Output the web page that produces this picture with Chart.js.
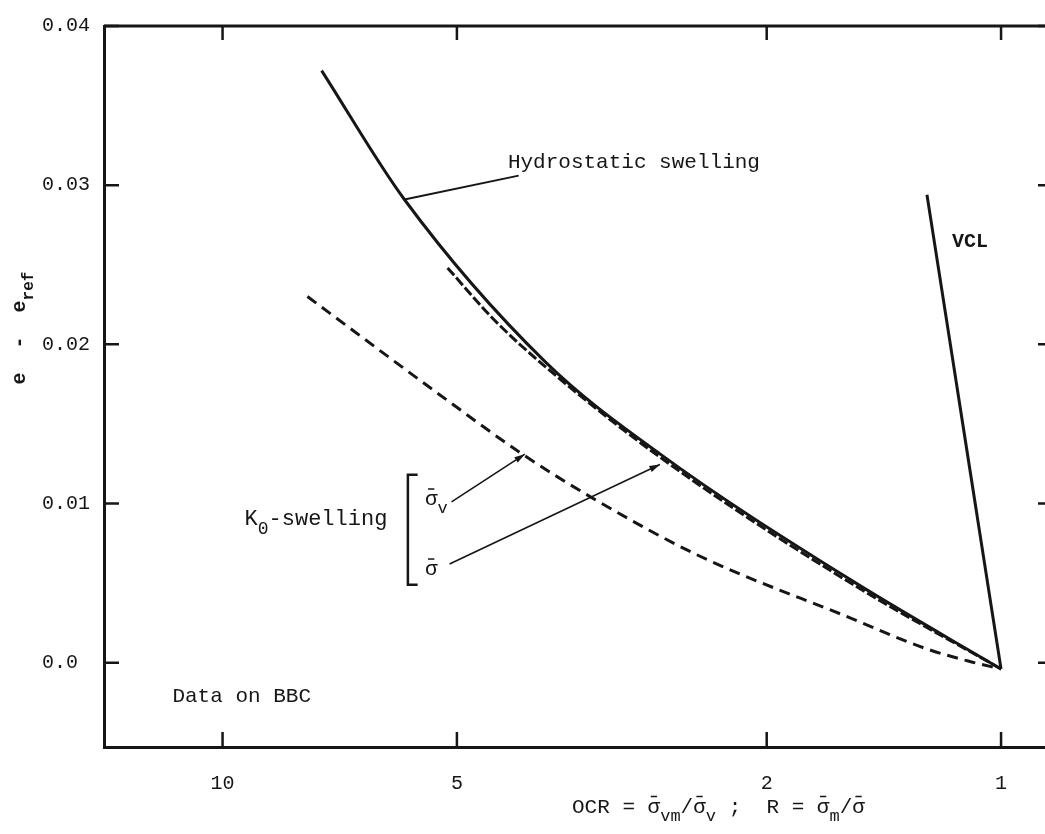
<!DOCTYPE html>
<html>
<head>
<meta charset="utf-8">
<script src="https://cdn.jsdelivr.net/npm/chart.js@4/dist/chart.umd.min.js"></script>
<style>
  html, body { margin: 0; padding: 0; background: #fff; overflow: hidden; }
  #wrap { width: 1070px; height: 834px; }
</style>
</head>
<body>
<div id="wrap"><canvas id="myChart" width="1070" height="834"></canvas></div>
<script>
// tick values
const ocrTicks = [1, 2, 5, 10];
const eTicks = [0, 0.01, 0.02, 0.03, 0.04];
const eTickLabels = ['0.0', '0.01', '0.02', '0.03', '0.04'];

// hydrostatic swelling (solid)
const hydroOcr = [7.46, 5.84, 3.85, 2.74, 1.56, 1.0];
const hydroE = [0.0372, 0.0291, 0.0189, 0.0131, 0.0052, -0.0004];

// K0-swelling, sigma_v (dashed)
const k0vOcr = [7.78, 5.15, 4.12, 3.31, 2.44, 1.56, 1.252, 1.102, 1.0];
const k0vE = [0.0230, 0.0165, 0.0131, 0.0102, 0.0067, 0.0028, 0.0009, 0.0001, -0.0004];

// K0-swelling, sigma mean (runs along the hydrostatic line)
const k0mOcr = [5.14, 4.47, 3.85, 2.74, 1.56, 1.0];
const k0mE = [0.0248, 0.0215, 0.0186, 0.0129, 0.0050, -0.0004];

// VCL
const vclOcr = [1.245, 1.0];
const vclE = [0.0294, -0.0004];

const MONO = '"Liberation Mono", "DejaVu Sans Mono", monospace';
const INK = '#161616';

function pts(xs, ys) {
  return xs.map((x, i) => ({x: x, y: ys[i]}));
}

// pieces of rich text: {t, bar, sub}
function drawRich(ctx, segs, x, y, size, align, weight) {
  const subSize = Math.round(size * 0.8);
  const w8 = weight ? weight + ' ' : '';
  let w = 0;
  segs.forEach(s => {
    ctx.font = w8 + (s.sub ? subSize : size) + 'px ' + MONO;
    s.w = ctx.measureText(s.t).width;
    w += s.w;
  });
  let cx = align === 'center' ? x - w / 2 : x;
  ctx.textBaseline = 'middle';
  ctx.textAlign = 'left';
  segs.forEach(s => {
    ctx.font = w8 + (s.sub ? subSize : size) + 'px ' + MONO;
    const dy = s.sub ? size * 0.45 : 0;
    ctx.fillText(s.t, cx, y + dy);
    if (s.bar) {
      ctx.beginPath();
      ctx.lineWidth = 1.5;
      ctx.moveTo(cx + s.w * 0.25, y - size * 0.5);
      ctx.lineTo(cx + s.w * 0.75, y - size * 0.5);
      ctx.stroke();
    }
    cx += s.w;
  });
}

function arrow(ctx, x1, y1, x2, y2) {
  ctx.beginPath();
  ctx.moveTo(x1, y1);
  ctx.lineTo(x2, y2);
  ctx.stroke();
  const a = Math.atan2(y2 - y1, x2 - x1);
  ctx.beginPath();
  ctx.moveTo(x2, y2);
  ctx.lineTo(x2 - 11 * Math.cos(a - 0.3), y2 - 11 * Math.sin(a - 0.3));
  ctx.lineTo(x2 - 11 * Math.cos(a + 0.3), y2 - 11 * Math.sin(a + 0.3));
  ctx.closePath();
  ctx.fill();
}

const decorations = {
  id: 'decorations',
  afterDraw(chart) {
    const {ctx, chartArea: ca} = chart;
    const sx = chart.scales.x, sy = chart.scales.y;
    const P = (o, e) => [sx.getPixelForValue(o), sy.getPixelForValue(e)];
    ctx.save();
    ctx.strokeStyle = INK;
    ctx.fillStyle = INK;

    // top and right frame
    ctx.lineWidth = 3;
    ctx.beginPath();
    ctx.moveTo(ca.left, ca.top);
    ctx.lineTo(ca.right, ca.top);
    ctx.lineTo(ca.right, ca.bottom);
    ctx.stroke();

    // inward ticks
    ctx.lineWidth = 2.5;
    ocrTicks.forEach(v => {
      const px = sx.getPixelForValue(v);
      ctx.beginPath();
      ctx.moveTo(px, ca.bottom); ctx.lineTo(px, ca.bottom - 15);
      ctx.moveTo(px, ca.top); ctx.lineTo(px, ca.top + 14);
      ctx.stroke();
    });
    eTicks.forEach(v => {
      const py = sy.getPixelForValue(v);
      ctx.beginPath();
      ctx.moveTo(ca.left, py); ctx.lineTo(ca.left + 15, py);
      ctx.moveTo(ca.right, py); ctx.lineTo(ca.right - 22, py);
      ctx.stroke();
    });

    ctx.textBaseline = 'middle';
    ctx.font = '21px ' + MONO;

    // Hydrostatic swelling
    let p = P(4.30, 0.0314);
    ctx.fillText('Hydrostatic swelling', p[0], p[1]);
    ctx.lineWidth = 2;
    let a = P(4.165, 0.0306), b = P(5.84, 0.0291);
    ctx.beginPath(); ctx.moveTo(a[0], a[1]); ctx.lineTo(b[0], b[1]); ctx.stroke();

    // VCL
    p = P(1.156, 0.0264);
    ctx.font = 'bold 20px ' + MONO;
    ctx.fillText('VCL', p[0], p[1]);

    // Data on BBC
    p = P(11.6, -0.0021);
    ctx.font = '21px ' + MONO;
    ctx.fillText('Data on BBC', p[0], p[1]);

    // K0-swelling bracket
    p = P(9.37, 0.0090);
    drawRich(ctx, [{t: 'K'}, {t: '0', sub: true}, {t: '-swelling'}], p[0], p[1], 22, 'left');
    const bt = P(5.78, 0.0118), bb = P(5.78, 0.0049), br = P(5.616, 0.0049);
    ctx.lineWidth = 2.5;
    ctx.beginPath();
    ctx.moveTo(br[0], bt[1]); ctx.lineTo(bt[0], bt[1]);
    ctx.lineTo(bb[0], bb[1]); ctx.lineTo(br[0], bb[1]);
    ctx.stroke();
    p = P(5.40, 0.01025);
    drawRich(ctx, [{t: 'σ', bar: true}, {t: 'v', sub: true}], p[0] - 6, p[1], 21, 'left');
    p = P(5.40, 0.00585);
    drawRich(ctx, [{t: 'σ', bar: true}], p[0] - 6, p[1], 21, 'left');

    ctx.lineWidth = 1.6;
    a = P(5.08, 0.0101); b = P(4.09, 0.0131);
    arrow(ctx, a[0], a[1], b[0], b[1]);
    a = P(5.11, 0.0062); b = P(2.743, 0.01245);
    arrow(ctx, a[0], a[1], b[0], b[1]);

    // x axis title
    drawRich(ctx, [
      {t: 'OCR = '}, {t: 'σ', bar: true}, {t: 'vm', sub: true}, {t: '/'},
      {t: 'σ', bar: true}, {t: 'v', sub: true}, {t: ' ;  R = '},
      {t: 'σ', bar: true}, {t: 'm', sub: true}, {t: '/'}, {t: 'σ', bar: true}
    ], ca.left + 468, ca.bottom + 60, 21, 'left');

    // y axis title
    ctx.translate(20, 328);
    ctx.rotate(-Math.PI / 2);
    drawRich(ctx, [{t: 'e  -  e'}, {t: 'ref', sub: true}], 0, 0, 20, 'center', 'bold');

    ctx.restore();
  }
};

const lineBase = {showLine: true, pointRadius: 0, borderColor: INK, fill: false, cubicInterpolationMode: 'monotone'};

new Chart(document.getElementById('myChart'), {
  type: 'scatter',
  data: {
    datasets: [
      Object.assign({label: 'Hydrostatic swelling', data: pts(hydroOcr, hydroE), borderWidth: 3}, lineBase),
      Object.assign({label: 'K0 sigma', data: pts(k0mOcr, k0mE), borderWidth: 3, borderDash: [10, 3]}, lineBase),
      Object.assign({label: 'K0 sigma v', data: pts(k0vOcr, k0vE), borderWidth: 3, borderDash: [11, 7]}, lineBase),
      Object.assign({label: 'VCL', data: pts(vclOcr, vclE), borderWidth: 3}, lineBase, {cubicInterpolationMode: 'default', tension: 0})
    ]
  },
  options: {
    responsive: false,
    animation: false,
    devicePixelRatio: 1,
    layout: {padding: {top: 26, left: 42, right: 10, bottom: 0}},
    plugins: {legend: {display: false}, tooltip: {enabled: false}},
    scales: {
      x: {
        type: 'logarithmic',
        reverse: true,
        min: 0.84,
        max: 14.2,
        afterBuildTicks: s => { s.ticks = ocrTicks.map(v => ({value: v})); },
        afterFit: s => { s.height = 87; },
        grid: {display: false, drawTicks: false},
        border: {display: true, color: INK, width: 3},
        ticks: {
          padding: 25, autoSkip: false, maxRotation: 0, color: INK,
          font: {family: MONO, size: 20},
          callback: v => String(v)
        }
      },
      y: {
        min: -0.0053,
        max: 0.04,
        afterBuildTicks: s => { s.ticks = eTicks.map(v => ({value: v})); },
        afterFit: s => { s.width = 62; },
        grid: {display: false, drawTicks: false},
        border: {display: true, color: INK, width: 3},
        ticks: {
          crossAlign: 'far', color: INK,
          font: {family: MONO, size: 20},
          callback: (v, i) => eTickLabels[i]
        }
      }
    }
  },
  plugins: [decorations]
});
</script>
</body>
</html>
